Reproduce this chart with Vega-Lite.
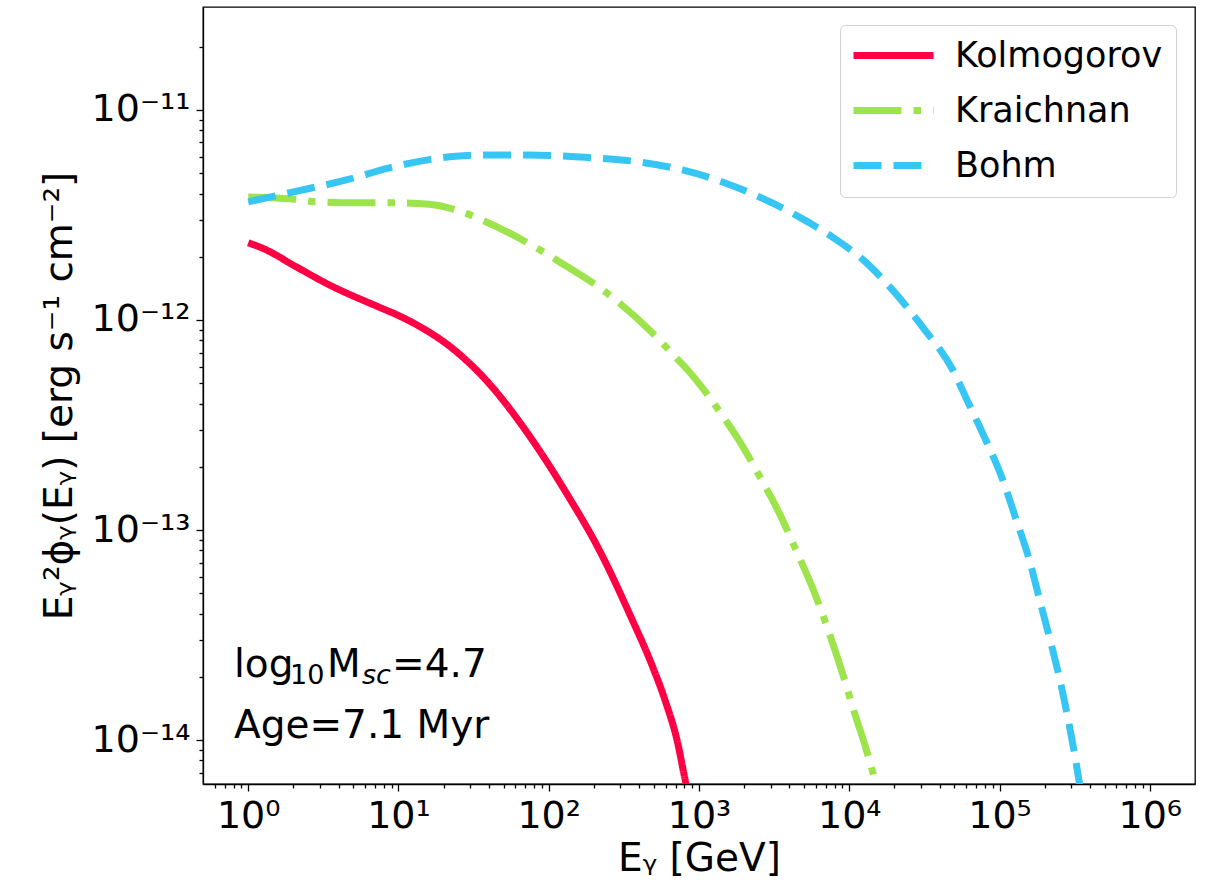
{
  "$schema": "https://vega.github.io/schema/vega-lite/v6.json",
  "autosize": {"type": "none"},
  "width": 992,
  "height": 777,
  "padding": {"left": 203, "top": 7, "right": 13, "bottom": 106},
  "background": "white",
  "datasets": {
    "curves": [
      {"model": "Kolmogorov", "E": 1, "flux": 2.33e-12},
      {"model": "Kolmogorov", "E": 1.24, "flux": 2.20e-12},
      {"model": "Kolmogorov", "E": 2.09, "flux": 1.79e-12},
      {"model": "Kolmogorov", "E": 3.46, "flux": 1.47e-12},
      {"model": "Kolmogorov", "E": 7.45, "flux": 1.15e-12},
      {"model": "Kolmogorov", "E": 10.0, "flux": 1.05e-12},
      {"model": "Kolmogorov", "E": 14.4, "flux": 9.16e-13},
      {"model": "Kolmogorov", "E": 21.8, "flux": 7.52e-13},
      {"model": "Kolmogorov", "E": 36.1, "flux": 5.41e-13},
      {"model": "Kolmogorov", "E": 77.8, "flux": 2.68e-13},
      {"model": "Kolmogorov", "E": 131, "flux": 1.50e-13},
      {"model": "Kolmogorov", "E": 217, "flux": 8.03e-14},
      {"model": "Kolmogorov", "E": 360, "flux": 3.73e-14},
      {"model": "Kolmogorov", "E": 472, "flux": 2.40e-14},
      {"model": "Kolmogorov", "E": 594, "flux": 1.55e-14},
      {"model": "Kolmogorov", "E": 714, "flux": 1.00e-14},
      {"model": "Kolmogorov", "E": 820, "flux": 6.17e-15},
      {"model": "Kolmogorov", "E": 899, "flux": 4.65e-15},
      {"model": "Kraichnan", "E": 1, "flux": 3.85e-12},
      {"model": "Kraichnan", "E": 1.96, "flux": 3.77e-12},
      {"model": "Kraichnan", "E": 2.84, "flux": 3.65e-12},
      {"model": "Kraichnan", "E": 5.24, "flux": 3.61e-12},
      {"model": "Kraichnan", "E": 10.4, "flux": 3.61e-12},
      {"model": "Kraichnan", "E": 16.0, "flux": 3.56e-12},
      {"model": "Kraichnan", "E": 26.6, "flux": 3.27e-12},
      {"model": "Kraichnan", "E": 36.1, "flux": 2.99e-12},
      {"model": "Kraichnan", "E": 63.7, "flux": 2.45e-12},
      {"model": "Kraichnan", "E": 118, "flux": 1.89e-12},
      {"model": "Kraichnan", "E": 242, "flux": 1.35e-12},
      {"model": "Kraichnan", "E": 468, "flux": 8.96e-13},
      {"model": "Kraichnan", "E": 707, "flux": 6.59e-13},
      {"model": "Kraichnan", "E": 841, "flux": 5.78e-13},
      {"model": "Kraichnan", "E": 1553, "flux": 3.22e-13},
      {"model": "Kraichnan", "E": 1810, "flux": 2.73e-13},
      {"model": "Kraichnan", "E": 2523, "flux": 1.81e-13},
      {"model": "Kraichnan", "E": 3428, "flux": 1.20e-13},
      {"model": "Kraichnan", "E": 4470, "flux": 7.89e-14},
      {"model": "Kraichnan", "E": 5800, "flux": 5.14e-14},
      {"model": "Kraichnan", "E": 7270, "flux": 3.31e-14},
      {"model": "Kraichnan", "E": 8920, "flux": 2.13e-14},
      {"model": "Kraichnan", "E": 10830, "flux": 1.35e-14},
      {"model": "Kraichnan", "E": 13150, "flux": 8.73e-15},
      {"model": "Kraichnan", "E": 14720, "flux": 6.45e-15},
      {"model": "Kraichnan", "E": 15890, "flux": 4.65e-15},
      {"model": "Bohm", "E": 1, "flux": 3.65e-12},
      {"model": "Bohm", "E": 1.87, "flux": 4.03e-12},
      {"model": "Bohm", "E": 4.49, "flux": 4.64e-12},
      {"model": "Bohm", "E": 8.69, "flux": 5.30e-12},
      {"model": "Bohm", "E": 16.0, "flux": 5.80e-12},
      {"model": "Bohm", "E": 24.0, "flux": 6.02e-12},
      {"model": "Bohm", "E": 34.5, "flux": 6.10e-12},
      {"model": "Bohm", "E": 74.3, "flux": 6.10e-12},
      {"model": "Bohm", "E": 160, "flux": 5.97e-12},
      {"model": "Bohm", "E": 401, "flux": 5.65e-12},
      {"model": "Bohm", "E": 775, "flux": 5.18e-12},
      {"model": "Bohm", "E": 1431, "flux": 4.54e-12},
      {"model": "Bohm", "E": 2525, "flux": 3.85e-12},
      {"model": "Bohm", "E": 4660, "flux": 3.09e-12},
      {"model": "Bohm", "E": 7730, "flux": 2.48e-12},
      {"model": "Bohm", "E": 13030, "flux": 1.87e-12},
      {"model": "Bohm", "E": 19400, "flux": 1.39e-12},
      {"model": "Bohm", "E": 30700, "flux": 9.27e-13},
      {"model": "Bohm", "E": 48900, "flux": 5.78e-13},
      {"model": "Bohm", "E": 62200, "flux": 4.01e-13},
      {"model": "Bohm", "E": 81500, "flux": 2.66e-13},
      {"model": "Bohm", "E": 105200, "flux": 1.73e-13},
      {"model": "Bohm", "E": 129100, "flux": 1.12e-13},
      {"model": "Bohm", "E": 158400, "flux": 7.15e-14},
      {"model": "Bohm", "E": 186700, "flux": 4.53e-14},
      {"model": "Bohm", "E": 220900, "flux": 2.86e-14},
      {"model": "Bohm", "E": 257500, "flux": 1.81e-14},
      {"model": "Bohm", "E": 292400, "flux": 1.16e-14},
      {"model": "Bohm", "E": 329000, "flux": 7.24e-15},
      {"model": "Bohm", "E": 341000, "flux": 6.17e-15},
      {"model": "Bohm", "E": 362300, "flux": 4.65e-15}
    ],
    "notes": [
      {"line": "mass", "E": 0.804, "flux": 1.995e-14},
      {"line": "age", "E": 0.804, "flux": 1.023e-14, "label": "Age=7.1 Myr"}
    ]
  },
  "layer": [
    {
      "data": {"name": "curves"},
      "mark": {"type": "line", "strokeWidth": 7, "clip": true, "strokeCap": "butt", "interpolate": "monotone"},
      "encoding": {
        "x": {
          "field": "E", "type": "quantitative",
          "scale": {"type": "log", "domain": [0.5, 2000000], "nice": false, "zero": false},
          "axis": {
            "title": "Eᵧ [GeV]",
            "values": [0.6, 0.7, 0.8, 0.9, 1, 2, 3, 4, 5, 6, 7, 8, 9, 10, 20, 30, 40, 50, 60, 70, 80, 90, 100, 200, 300, 400, 500, 600, 700, 800, 900, 1000, 2000, 3000, 4000, 5000, 6000, 7000, 8000, 9000, 10000, 20000, 30000, 40000, 50000, 60000, 70000, 80000, 90000, 100000, 200000, 300000, 400000, 500000, 600000, 700000, 800000, 900000, 1000000],
            "labelExpr": "datum.value==1?'10⁰':datum.value==10?'10¹':datum.value==100?'10²':datum.value==1000?'10³':datum.value==10000?'10⁴':datum.value==100000?'10⁵':datum.value==1000000?'10⁶':''",
            "tickSize": {"condition": {"test": "indexof([1,10,100,1000,10000,100000,1000000], datum.value) >= 0", "value": 7}, "value": 4},
            "labelPadding": 6,
            "titlePadding": 4
          }
        },
        "y": {
          "field": "flux", "type": "quantitative",
          "scale": {"type": "log", "domain": [6.18e-15, 3.09e-11], "nice": false, "zero": false},
          "axis": {
            "title": "Eᵧ²ϕᵧ(Eᵧ) [erg s⁻¹ cm⁻²]",
            "values": [7e-15, 8e-15, 9e-15, 1e-14, 2e-14, 3e-14, 4e-14, 5e-14, 6e-14, 7e-14, 8e-14, 9e-14, 1e-13, 2e-13, 3e-13, 4e-13, 5e-13, 6e-13, 7e-13, 8e-13, 9e-13, 1e-12, 2e-12, 3e-12, 4e-12, 5e-12, 6e-12, 7e-12, 8e-12, 9e-12, 1e-11, 2e-11],
            "labelExpr": "datum.value==1e-14?'10⁻¹⁴':datum.value==1e-13?'10⁻¹³':datum.value==1e-12?'10⁻¹²':datum.value==1e-11?'10⁻¹¹':''",
            "tickSize": {"condition": {"test": "indexof([1e-14,1e-13,1e-12,1e-11], datum.value) >= 0", "value": 7}, "value": 4},
            "labelPadding": 6,
            "titlePadding": 12
          }
        },
        "color": {
          "field": "model", "type": "nominal",
          "scale": {"domain": ["Kolmogorov", "Kraichnan", "Bohm"], "range": ["#ff0044", "#9de34c", "#37c5f4"]},
          "legend": {"title": null}
        },
        "strokeDash": {
          "field": "model", "type": "nominal",
          "scale": {"domain": ["Kolmogorov", "Kraichnan", "Bohm"], "range": [[1, 0], [48, 12, 7.5, 12], [28, 12]]},
          "legend": {"title": null}
        }
      }
    },
    {
      "data": {"name": "notes"},
      "transform": [{"filter": "datum.line == 'mass'"}],
      "mark": {"type": "text", "text": "log", "align": "left", "baseline": "alphabetic", "fontSize": 39, "dx": 0},
      "encoding": {"x": {"field": "E", "type": "quantitative"}, "y": {"field": "flux", "type": "quantitative"}}
    },
    {
      "data": {"name": "notes"},
      "transform": [{"filter": "datum.line == 'mass'"}],
      "mark": {"type": "text", "text": "10", "align": "left", "baseline": "alphabetic", "fontSize": 27, "dx": 56, "dy": 7},
      "encoding": {"x": {"field": "E", "type": "quantitative"}, "y": {"field": "flux", "type": "quantitative"}}
    },
    {
      "data": {"name": "notes"},
      "transform": [{"filter": "datum.line == 'mass'"}],
      "mark": {"type": "text", "text": "M", "align": "left", "baseline": "alphabetic", "fontSize": 39, "dx": 93},
      "encoding": {"x": {"field": "E", "type": "quantitative"}, "y": {"field": "flux", "type": "quantitative"}}
    },
    {
      "data": {"name": "notes"},
      "transform": [{"filter": "datum.line == 'mass'"}],
      "mark": {"type": "text", "text": "sc", "align": "left", "baseline": "alphabetic", "fontSize": 27, "fontStyle": "italic", "dx": 128, "dy": 7},
      "encoding": {"x": {"field": "E", "type": "quantitative"}, "y": {"field": "flux", "type": "quantitative"}}
    },
    {
      "data": {"name": "notes"},
      "transform": [{"filter": "datum.line == 'mass'"}],
      "mark": {"type": "text", "text": "=4.7", "align": "left", "baseline": "alphabetic", "fontSize": 39, "dx": 158},
      "encoding": {"x": {"field": "E", "type": "quantitative"}, "y": {"field": "flux", "type": "quantitative"}}
    },
    {
      "data": {"name": "notes"},
      "transform": [{"filter": "datum.line == 'age'"}],
      "mark": {"type": "text", "align": "left", "baseline": "alphabetic", "fontSize": 39},
      "encoding": {"x": {"field": "E", "type": "quantitative"}, "y": {"field": "flux", "type": "quantitative"}, "text": {"field": "label"}}
    }
  ],
  "config": {
    "font": "DejaVu Sans",
    "view": {"stroke": "black", "strokeWidth": 1.3},
    "text": {"font": "DejaVu Sans", "color": "black"},
    "axis": {
      "grid": false,
      "domainColor": "black", "domainWidth": 1.3,
      "tickColor": "black", "tickWidth": 1.3,
      "labelColor": "black", "titleColor": "black",
      "labelFont": "DejaVu Sans", "titleFont": "DejaVu Sans",
      "labelFontSize": 38, "titleFontSize": 39, "titleFontWeight": "normal",
      "labelOverlap": false, "labelFlush": false
    },
    "legend": {
      "orient": "none", "legendX": 637, "legendY": 18,
      "symbolType": "M-1.7,0H6.3", "symbolSize": 400, "symbolStrokeWidth": 7,
      "labelFont": "DejaVu Sans", "labelFontSize": 35, "labelColor": "black", "labelLimit": 500,
      "labelOffset": 67, "rowPadding": 19, "padding": 13,
      "strokeColor": "#d0d0d0", "fillColor": "white", "cornerRadius": 5
    }
  }
}
